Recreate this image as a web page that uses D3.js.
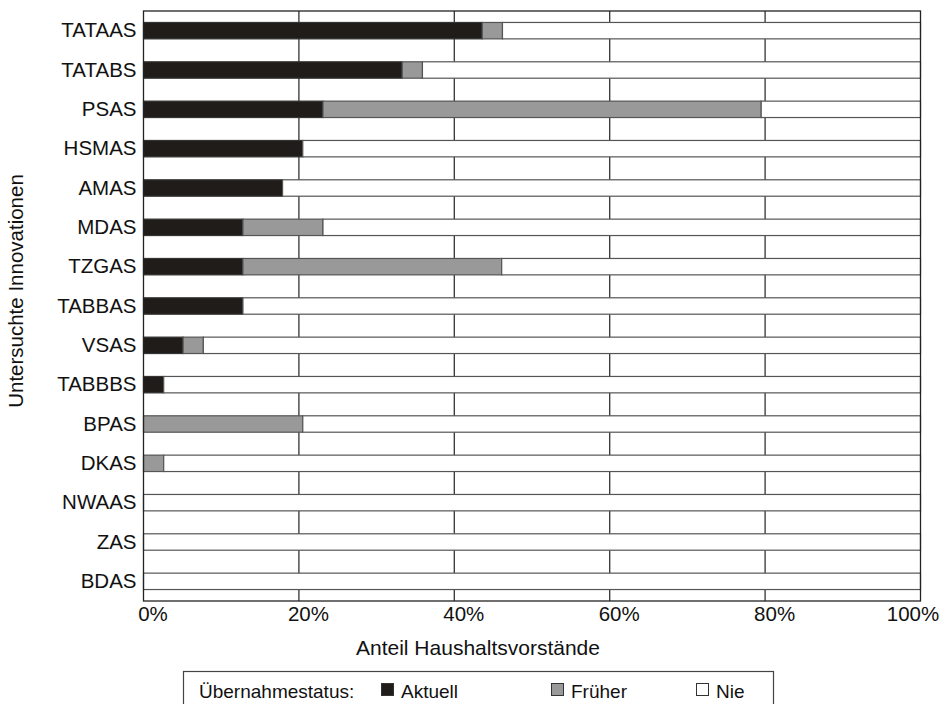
<!DOCTYPE html>
<html><head><meta charset="utf-8">
<script src="https://cdn.jsdelivr.net/npm/d3@7"></script>
<style>body{margin:0;background:#fff}svg{display:block}</style>
</head><body>
<svg id="chart" width="946" height="704"></svg>
<script>
const categories = ["TATAAS","TATABS","PSAS","HSMAS","AMAS","MDAS","TZGAS","TABBAS","VSAS","TABBBS","BPAS","DKAS","NWAAS","ZAS","BDAS"];
const aktuell = [43.6,33.3,23.1,20.5,17.9,12.8,12.8,12.8,5.1,2.6,0,0,0,0,0];
const frueher = [2.6,2.6,56.4,0,0,10.3,33.3,0,2.6,0,20.5,2.6,0,0,0];
const seriesKeys = ["Aktuell","Früher","Nie"];
const seriesColors = ["#201c1a","#999999","#ffffff"];
const xTicks = [0,20,40,60,80,100];
const xTickLabels = ["0%","20%","40%","60%","80%","100%"];

const rows = categories.map((c,i)=>({cat:c, "Aktuell":aktuell[i], "Früher":frueher[i], "Nie":100-aktuell[i]-frueher[i]}));

const svg = d3.select("#chart");
const font = "'Liberation Sans', Arial, Helvetica, sans-serif";
const m = {left:143.5, right:920.5, top:11, bottom:601};
const x = d3.scaleLinear().domain([0,100]).range([m.left,m.right]);
const y = d3.scaleBand().domain(categories).range([m.top,m.bottom]).paddingInner(0.583).paddingOuter(0.2915);
const color = d3.scaleOrdinal().domain(seriesKeys).range(seriesColors);

svg.append("rect").attr("x",m.left).attr("y",m.top).attr("width",m.right-m.left).attr("height",m.bottom-m.top)
  .attr("fill","#fff");

svg.append("g").selectAll("line").data(xTicks.slice(1,-1)).join("line")
  .attr("x1",d=>x(d)).attr("x2",d=>x(d)).attr("y1",m.top).attr("y2",m.bottom)
  .attr("stroke","#333").attr("stroke-width",1.3);

const stack = d3.stack().keys(seriesKeys)(rows);
svg.append("g").selectAll("g").data(stack).join("g")
  .attr("fill",d=>color(d.key))
  .attr("stroke",d=>d.key==="Aktuell" ? "#333" : "#555")
  .attr("stroke-width",1.2)
  .selectAll("rect").data(d=>d.filter(s=>s[1]-s[0]>0)).join("rect")
  .attr("x",d=>x(d[0])).attr("width",d=>x(d[1])-x(d[0]))
  .attr("y",d=>y(d.data.cat)).attr("height",y.bandwidth());

svg.append("rect").attr("x",m.left).attr("y",m.top).attr("width",m.right-m.left).attr("height",m.bottom-m.top)
  .attr("fill","none").attr("stroke","#222").attr("stroke-width",1.3);

const yAxis = d3.axisLeft(y).tickSize(0).tickPadding(7);
const gy = svg.append("g").attr("transform",`translate(${m.left},0)`).call(yAxis);
gy.select(".domain").remove();
gy.selectAll("text").attr("font-family",font).attr("font-size",20.5).attr("fill","#111");

const xAxis = d3.axisBottom(x).tickValues(xTicks).tickFormat((d,i)=>xTickLabels[i]).tickSize(0).tickPadding(0);
const gx = svg.append("g").attr("transform",`translate(0,${m.bottom})`).call(xAxis);
gx.select(".domain").remove();
gx.selectAll("text").attr("font-family",font).attr("font-size",20.5).attr("fill","#111")
  .attr("dy",null).attr("y",20)
  .attr("dx",(d,i)=> i===xTicks.length-1 ? -8 : 9);

svg.append("text").attr("x",478).attr("y",655).attr("text-anchor","middle")
  .attr("font-family",font).attr("font-size",21).attr("fill","#111").text("Anteil Haushaltsvorstände");
svg.append("text").attr("transform",`translate(23,${(m.top+m.bottom)/2 - 15}) rotate(-90)`).attr("text-anchor","middle")
  .attr("font-family",font).attr("font-size",20.5).attr("fill","#111").text("Untersuchte Innovationen");

const lg = svg.append("g");
lg.append("rect").attr("x",183.5).attr("y",671.5).attr("width",590).attr("height",40)
  .attr("fill","#fff").attr("stroke","#444").attr("stroke-width",1.2);
lg.append("text").attr("x",199).attr("y",698).attr("font-family",font).attr("font-size",19).attr("fill","#111").text("Übernahmestatus:");
const legendX = [381, 551, 696];
seriesKeys.forEach((k,i)=>{
  lg.append("rect").attr("x",legendX[i]+0.5).attr("y",683.5).attr("width",12).attr("height",12)
    .attr("fill",color(k)).attr("stroke","#333").attr("stroke-width",1);
  lg.append("text").attr("x",legendX[i]+20).attr("y",698).attr("font-family",font).attr("font-size",19).attr("fill","#111").text(k);
});
</script>
</body></html>
